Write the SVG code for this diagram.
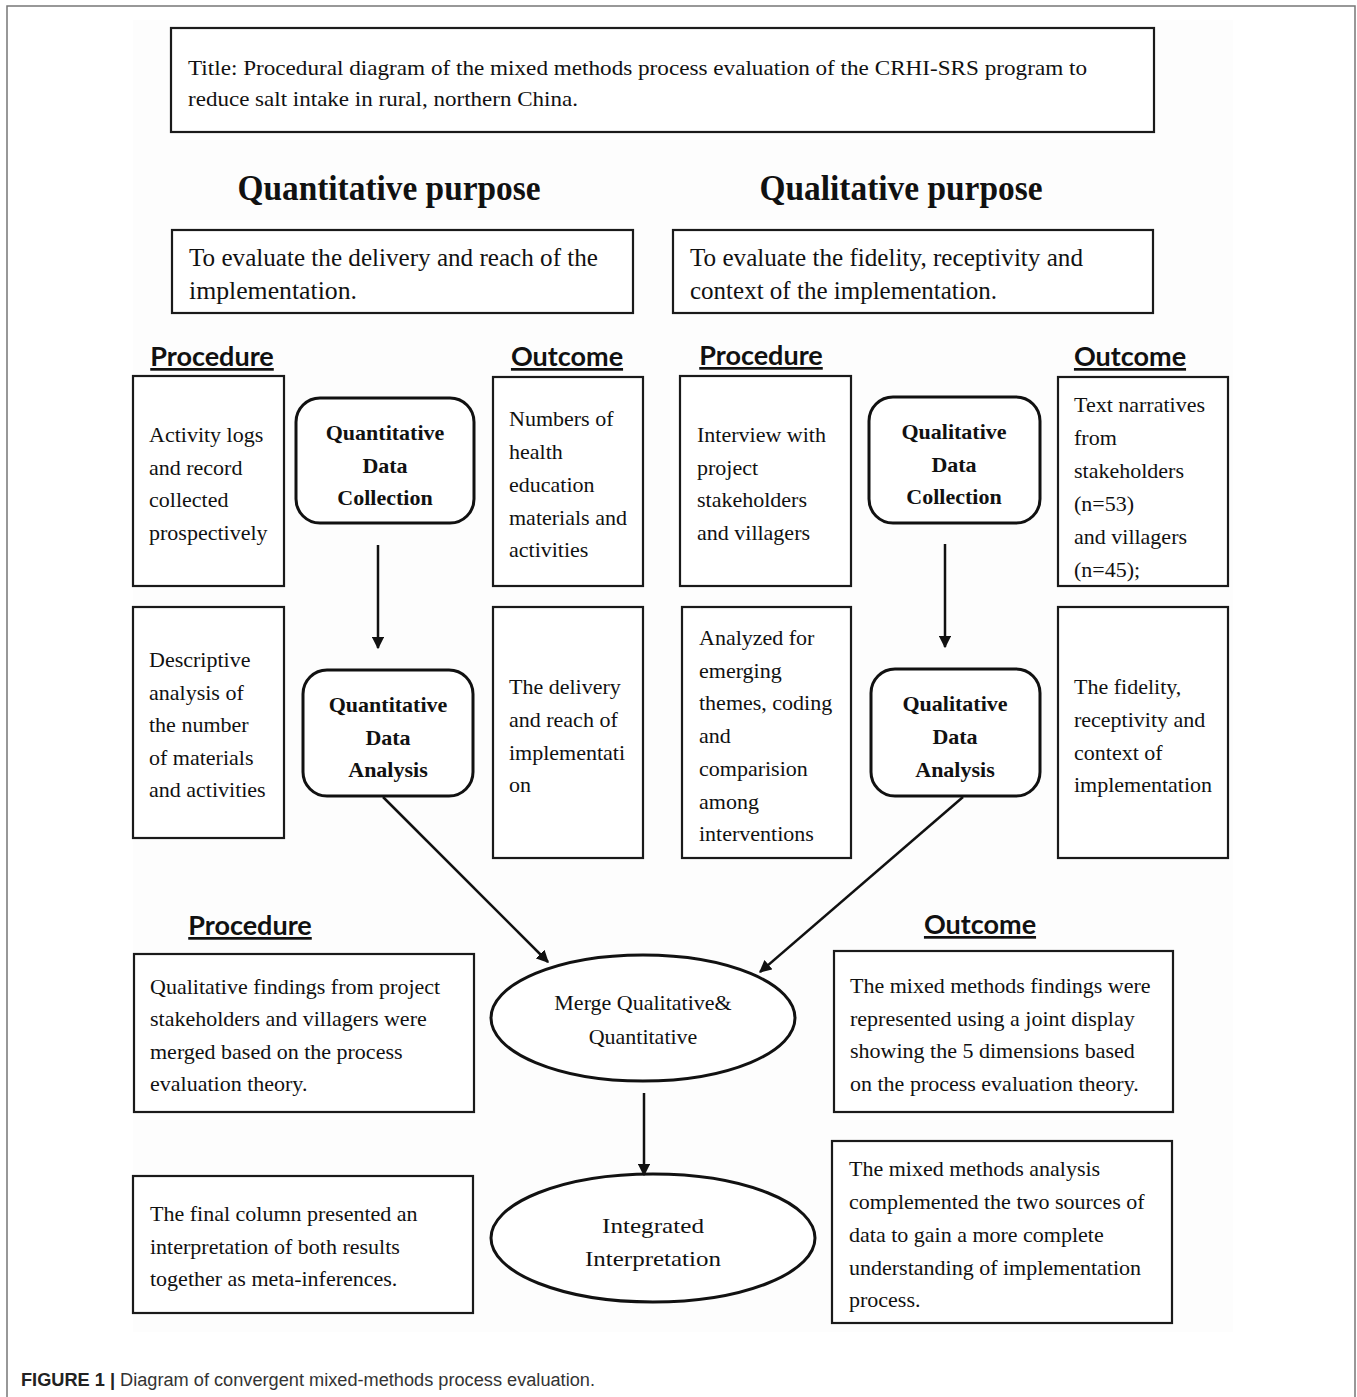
<svg xmlns="http://www.w3.org/2000/svg" width="1357" height="1397" viewBox="0 0 1357 1397">
<style>
.bx{fill:#fff;stroke:#1a1a1a;stroke-width:2.2}
.rb{fill:#fff;stroke:#111;stroke-width:3}
.el{fill:#fff;stroke:#111;stroke-width:3}
.t{font-family:"Liberation Serif","Times New Roman",serif;font-size:22px;fill:#111}
.tb{font-family:"Liberation Serif","Times New Roman",serif;font-size:22px;font-weight:bold;fill:#111;text-anchor:middle}
.h{font-family:"Liberation Serif","Times New Roman",serif;font-size:36px;font-weight:bold;fill:#111;text-anchor:middle}
.p{font-family:"Liberation Serif","Times New Roman",serif;font-size:26px;fill:#111}
.hd{font-family:Lato,"Liberation Sans",sans-serif;font-size:27px;font-weight:bold;fill:#111;text-anchor:middle;text-decoration:underline}
.cn{stroke:#111;stroke-width:2.5;fill:none}
.cap{font-family:"Liberation Sans",Arial,sans-serif;font-size:18px;fill:#333}
</style>
<defs>
<marker id="ah" viewBox="0 0 10 10" refX="9" refY="5" markerWidth="5" markerHeight="5" markerUnits="strokeWidth" orient="auto">
<path d="M0,0 L10,5 L0,10 z" fill="#111"/>
</marker>
</defs>
<rect x="0" y="0" width="1357" height="1397" fill="#fff"/>
<path d="M7,1397 V6 H1355 V1397" fill="none" stroke="#777" stroke-width="1.5"/>
<rect x="133" y="20" width="1100" height="1312" fill="#fdfdfd"/>

<g id="title">
<rect class="bx" x="171" y="28" width="983" height="104"/>
<text class="t" x="188" y="75" font-size="25" textLength="899" lengthAdjust="spacingAndGlyphs">Title: Procedural diagram of the mixed methods process evaluation of the CRHI-SRS program to</text>
<text class="t" x="188" y="106" font-size="25" textLength="390" lengthAdjust="spacingAndGlyphs">reduce salt intake in rural, northern China.</text>
</g>

<g id="quant-purpose-heading"><text class="h" x="389" y="200" textLength="303" lengthAdjust="spacingAndGlyphs">Quantitative purpose</text></g>
<g id="qual-purpose-heading"><text class="h" x="901" y="200" textLength="283" lengthAdjust="spacingAndGlyphs">Qualitative purpose</text></g>

<g id="quant-purpose">
<rect class="bx" x="172" y="230" width="461" height="83"/>
<text class="p" x="189" y="266" textLength="409" lengthAdjust="spacingAndGlyphs">To evaluate the delivery and reach of the</text>
<text class="p" x="189" y="299" textLength="168" lengthAdjust="spacingAndGlyphs">implementation.</text>
</g>
<g id="qual-purpose">
<rect class="bx" x="673" y="230" width="480" height="83"/>
<text class="p" x="690" y="266" textLength="393" lengthAdjust="spacingAndGlyphs">To evaluate the fidelity, receptivity and</text>
<text class="p" x="690" y="299" textLength="307" lengthAdjust="spacingAndGlyphs">context of the implementation.</text>
</g>

<g id="headers">
<text class="hd" x="212" y="366">Procedure</text>
<text class="hd" x="567" y="366">Outcome</text>
<text class="hd" x="761" y="365">Procedure</text>
<text class="hd" x="1130" y="366">Outcome</text>
<text class="hd" x="250" y="935">Procedure</text>
<text class="hd" x="980" y="934">Outcome</text>
</g>

<g id="quant-proc-1">
<rect class="bx" x="133" y="376" width="151" height="210"/>
<text class="t" x="149" y="442">Activity logs</text>
<text class="t" x="149" y="475">and record</text>
<text class="t" x="149" y="507">collected</text>
<text class="t" x="149" y="540">prospectively</text>
</g>
<g id="quant-collect">
<rect class="rb" x="296" y="398" width="178" height="125" rx="24"/>
<text class="tb" x="385" y="440">Quantitative</text>
<text class="tb" x="385" y="473">Data</text>
<text class="tb" x="385" y="505">Collection</text>
</g>
<g id="quant-out-1">
<rect class="bx" x="493" y="377" width="150" height="209"/>
<text class="t" x="509" y="426">Numbers of</text>
<text class="t" x="509" y="459">health</text>
<text class="t" x="509" y="492">education</text>
<text class="t" x="509" y="525">materials and</text>
<text class="t" x="509" y="557">activities</text>
</g>
<g id="qual-proc-1">
<rect class="bx" x="680" y="376" width="171" height="210"/>
<text class="t" x="697" y="442">Interview with</text>
<text class="t" x="697" y="475">project</text>
<text class="t" x="697" y="507">stakeholders</text>
<text class="t" x="697" y="540">and villagers</text>
</g>
<g id="qual-collect">
<rect class="rb" x="869" y="397" width="171" height="126" rx="24"/>
<text class="tb" x="954" y="439">Qualitative</text>
<text class="tb" x="954" y="472">Data</text>
<text class="tb" x="954" y="504">Collection</text>
</g>
<g id="qual-out-1">
<rect class="bx" x="1058" y="377" width="170" height="209"/>
<text class="t" x="1074" y="412">Text narratives</text>
<text class="t" x="1074" y="445">from</text>
<text class="t" x="1074" y="478">stakeholders</text>
<text class="t" x="1074" y="511">(n=53)</text>
<text class="t" x="1074" y="544">and villagers</text>
<text class="t" x="1074" y="577">(n=45);</text>
</g>

<g id="quant-proc-2">
<rect class="bx" x="133" y="607" width="151" height="231"/>
<text class="t" x="149" y="667">Descriptive</text>
<text class="t" x="149" y="700">analysis of</text>
<text class="t" x="149" y="732">the number</text>
<text class="t" x="149" y="765">of materials</text>
<text class="t" x="149" y="797">and activities</text>
</g>
<g id="quant-analysis">
<rect class="rb" x="303" y="670" width="170" height="126" rx="24"/>
<text class="tb" x="388" y="712">Quantitative</text>
<text class="tb" x="388" y="745">Data</text>
<text class="tb" x="388" y="777">Analysis</text>
</g>
<g id="quant-out-2">
<rect class="bx" x="493" y="607" width="150" height="251"/>
<text class="t" x="509" y="694">The delivery</text>
<text class="t" x="509" y="727">and reach of</text>
<text class="t" x="509" y="760">implementati</text>
<text class="t" x="509" y="792">on</text>
</g>
<g id="qual-proc-2">
<rect class="bx" x="682" y="607" width="169" height="251"/>
<text class="t" x="699" y="645">Analyzed for</text>
<text class="t" x="699" y="678">emerging</text>
<text class="t" x="699" y="710">themes, coding</text>
<text class="t" x="699" y="743">and</text>
<text class="t" x="699" y="776">comparision</text>
<text class="t" x="699" y="809">among</text>
<text class="t" x="699" y="841">interventions</text>
</g>
<g id="qual-analysis">
<rect class="rb" x="871" y="669" width="169" height="127" rx="24"/>
<text class="tb" x="955" y="711">Qualitative</text>
<text class="tb" x="955" y="744">Data</text>
<text class="tb" x="955" y="777">Analysis</text>
</g>
<g id="qual-out-2">
<rect class="bx" x="1058" y="607" width="170" height="251"/>
<text class="t" x="1074" y="694">The fidelity,</text>
<text class="t" x="1074" y="727">receptivity and</text>
<text class="t" x="1074" y="760">context of</text>
<text class="t" x="1074" y="792">implementation</text>
</g>

<g id="merge-proc">
<rect class="bx" x="134" y="954" width="340" height="158"/>
<text class="t" x="150" y="994">Qualitative findings from project</text>
<text class="t" x="150" y="1026">stakeholders and villagers were</text>
<text class="t" x="150" y="1059">merged based on the process</text>
<text class="t" x="150" y="1091">evaluation theory.</text>
</g>
<g id="merge">
<ellipse class="el" cx="643" cy="1018" rx="152" ry="63"/>
<text class="t" x="643" y="1010" text-anchor="middle" font-size="21">Merge Qualitative&amp;</text>
<text class="t" x="643" y="1044" text-anchor="middle" font-size="21">Quantitative</text>
</g>
<g id="merge-out">
<rect class="bx" x="834" y="951" width="339" height="161"/>
<text class="t" x="850" y="993">The mixed methods findings were</text>
<text class="t" x="850" y="1026">represented using a joint display</text>
<text class="t" x="850" y="1058">showing the 5 dimensions based</text>
<text class="t" x="850" y="1091">on the process evaluation theory.</text>
</g>
<g id="final-proc">
<rect class="bx" x="133" y="1176" width="340" height="137"/>
<text class="t" x="150" y="1221">The final column presented an</text>
<text class="t" x="150" y="1254">interpretation of both results</text>
<text class="t" x="150" y="1286">together as meta-inferences.</text>
</g>
<g id="integrated">
<ellipse class="el" cx="653" cy="1238" rx="162" ry="64"/>
<text class="t" x="653" y="1233" text-anchor="middle" font-size="27" textLength="102" lengthAdjust="spacingAndGlyphs">Integrated</text>
<text class="t" x="653" y="1266" text-anchor="middle" font-size="27" textLength="136" lengthAdjust="spacingAndGlyphs">Interpretation</text>
</g>
<g id="final-out">
<rect class="bx" x="832" y="1141" width="340" height="182"/>
<text class="t" x="849" y="1176">The mixed methods analysis</text>
<text class="t" x="849" y="1209">complemented the two sources of</text>
<text class="t" x="849" y="1242">data to gain a more complete</text>
<text class="t" x="849" y="1275">understanding of implementation</text>
<text class="t" x="849" y="1307">process.</text>
</g>

<g id="connectors">
<line class="cn" x1="378" y1="545" x2="378" y2="648" marker-end="url(#ah)"/>
<line class="cn" x1="945" y1="544" x2="945" y2="647" marker-end="url(#ah)"/>
<line class="cn" x1="383" y1="797" x2="548" y2="962" marker-end="url(#ah)"/>
<line class="cn" x1="963" y1="797" x2="760" y2="972" marker-end="url(#ah)"/>
<line class="cn" x1="644" y1="1093" x2="644" y2="1175" marker-end="url(#ah)"/>
</g>

<g id="caption">
<text class="cap" x="21" y="1386" textLength="574" lengthAdjust="spacingAndGlyphs"><tspan font-weight="bold" fill="#222">FIGURE 1 |</tspan> Diagram of convergent mixed-methods process evaluation.</text>
</g>
</svg>
